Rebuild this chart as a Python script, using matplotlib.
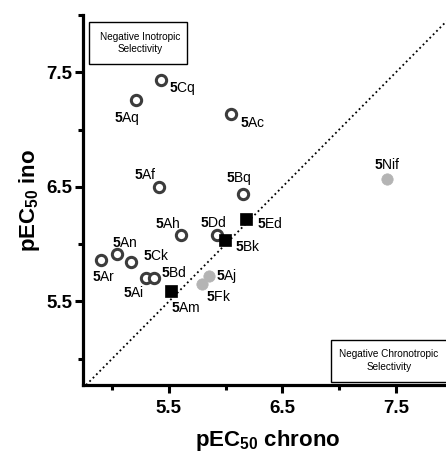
import matplotlib
matplotlib.use("Agg")
import matplotlib.pyplot as plt
from matplotlib import font_manager
from matplotlib.patches import Rectangle
from matplotlib.ticker import FixedLocator

# fonts: Arial-like, narrow version for the corner boxes if present
installed = {f.name for f in font_manager.fontManager.ttflist}
box_font = "Liberation Sans Narrow" if "Liberation Sans Narrow" in installed else "Liberation Sans"
box_size = 8.3 if box_font == "Liberation Sans Narrow" else 7.2
plt.rcParams["font.family"] = ["Liberation Sans", "DejaVu Sans"]
plt.rcParams["mathtext.fontset"] = "custom"
plt.rcParams["mathtext.rm"] = "Liberation Sans"
plt.rcParams["mathtext.bf"] = "Liberation Sans:bold"

# --- data (pEC50 chrono, pEC50 ino) ---
open_names = ["Cq", "Aq", "Ac", "Af", "Bq", "Ah", "Dd", "An", "Ar", "Ck", "Ai", "Bd"]
open_chrono = [5.43, 5.21, 6.05, 5.41, 6.15, 5.61, 5.92, 5.04, 4.90, 5.17, 5.30, 5.37]
open_ino = [7.43, 7.26, 7.14, 6.50, 6.44, 6.08, 6.08, 5.91, 5.86, 5.84, 5.70, 5.70]

square_names = ["Ed", "Bk", "Am"]
square_chrono = [6.18, 5.99, 5.52]
square_ino = [6.22, 6.04, 5.59]

gray_names = ["Nif", "Aj", "Fk"]
gray_chrono = [7.42, 5.85, 5.79]
gray_ino = [6.57, 5.72, 5.65]

# label offsets in pixels (dx, dy) from the marker to the text baseline start
label_offsets = {
    "Cq": (7.6, -11.7), "Aq": (-22.4, -22.4), "Ac": (8.3, -13.4), "Af": (-24.7, 8),
    "Bq": (-16.6, 11.6), "Ah": (-26.7, 7), "Dd": (-16.3, 7.6), "An": (-5, 7.6),
    "Ar": (-8.4, -20.7), "Ck": (11.6, 2.4), "Ai": (-23.3, -19), "Bd": (7.3, 1.3),
    "Ed": (10.6, -9), "Bk": (10, -11.7), "Am": (0, -21),
    "Nif": (-12.4, 9.4), "Aj": (7.4, -4.3), "Fk": (4, -16.7),
}

fig = plt.figure(figsize=(4.46, 4.53), dpi=100)
ax = fig.add_axes([0.1854, 0.1501, 0.8296, 0.8168])
ax.set_xlim(4.74, 8.0)
ax.set_ylim(4.77, 8.0)

# line of identity
ax.axline((5.0, 5.0), (6.0, 6.0), color="black", linestyle=":", linewidth=1.3, zorder=1)

ax.plot(open_chrono, open_ino, linestyle="none", marker="o", markersize=7.4,
        markerfacecolor="white", markeredgecolor="#3c3c3c", markeredgewidth=2.2, zorder=3)
ax.plot(square_chrono, square_ino, linestyle="none", marker="s", markersize=8.2,
        markerfacecolor="black", markeredgecolor="black", markeredgewidth=0.5, zorder=3)
ax.plot(gray_chrono, gray_ino, linestyle="none", marker="o", markersize=8.2,
        markerfacecolor="#b4b4b4", markeredgecolor="#b4b4b4", markeredgewidth=0.5, zorder=3)

all_names = open_names + square_names + gray_names
all_x = open_chrono + square_chrono + gray_chrono
all_y = open_ino + square_ino + gray_ino
for name, x, y in zip(all_names, all_x, all_y):
    dx, dy = label_offsets[name]
    ax.annotate(r"$\mathbf{5}$" + name, (x, y), xytext=(dx, dy), textcoords="offset pixels",
                ha="left", va="baseline", fontsize=10, color="black", zorder=4)

# corner boxes
ax.add_patch(Rectangle((0.017, 0.868), 0.264, 0.113, transform=ax.transAxes,
                       facecolor="white", edgecolor="black", linewidth=1.0, zorder=5))
ax.text(0.155, 0.9245, "Negative Inotropic\nSelectivity", transform=ax.transAxes,
        ha="center", va="center", fontsize=box_size, family=box_font, linespacing=1.35, zorder=6)
ax.add_patch(Rectangle((0.672, 0.009), 0.34, 0.113, transform=ax.transAxes,
                       facecolor="white", edgecolor="black", linewidth=1.0, zorder=5,
                       clip_on=False))
ax.text(0.828, 0.0655, "Negative Chronotropic\nSelectivity", transform=ax.transAxes,
        ha="center", va="center", fontsize=box_size, family=box_font, linespacing=1.35, zorder=6)

# axes styling
for side in ["top", "right"]:
    ax.spines[side].set_visible(False)
for side in ["left", "bottom"]:
    ax.spines[side].set_linewidth(2.3)

ticks = [5.5, 6.5, 7.5]
minor = [5.0, 6.0, 7.0, 8.0]
ax.set_xticks(ticks)
ax.set_yticks(ticks)
ax.set_xticklabels(["5.5", "6.5", "7.5"], fontweight="bold", fontsize=13.5)
ax.set_yticklabels(["5.5", "6.5", "7.5"], fontweight="bold", fontsize=13.5)
ax.xaxis.set_minor_locator(FixedLocator(minor))
ax.yaxis.set_minor_locator(FixedLocator(minor))
ax.tick_params(which="major", length=5.5, width=2.2, direction="out")
ax.tick_params(which="minor", length=3.5, width=2.2, direction="out")
ax.tick_params(axis="x", which="major", pad=5)
ax.tick_params(axis="y", which="major", pad=2)

ax.set_xlabel(r"pEC$_{\mathbf{50}}$ chrono", fontsize=16, fontweight="bold")
ax.set_ylabel(r"pEC$_{\mathbf{50}}$ ino", fontsize=16, fontweight="bold")
ax.xaxis.set_label_coords(0.5, -0.115)
ax.yaxis.set_label_coords(-0.11, 0.5)

fig.savefig("out.png", dpi=100)
